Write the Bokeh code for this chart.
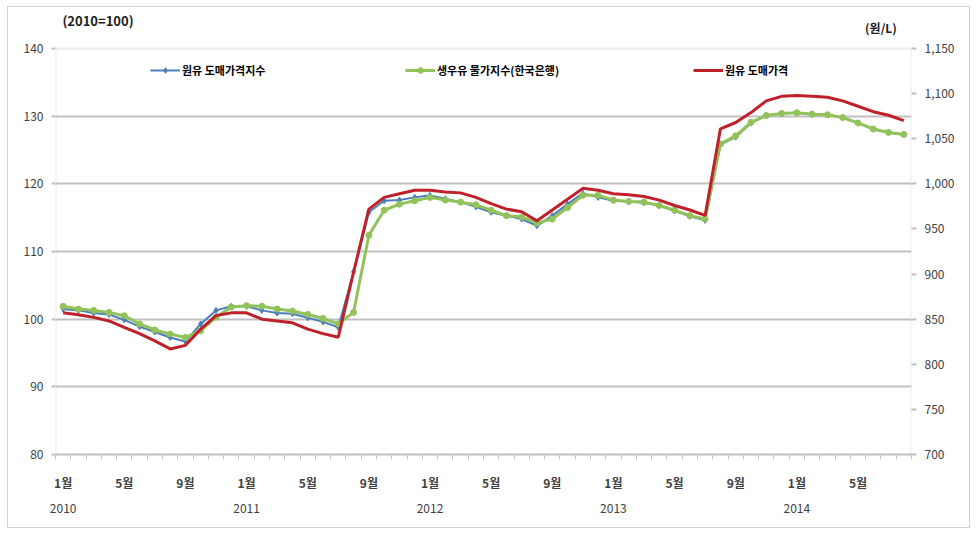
from bokeh.plotting import figure
from bokeh.models import (Range1d, LinearAxis, FixedTicker, NumeralTickFormatter,
                          Legend, LegendItem, Label, ColumnDataSource, BoxAnnotation)
from bokeh.embed import file_html
from bokeh.resources import INLINE

# ---- data ----
months = list(range(56))  # Jan 2010 .. Aug 2014
month_tick_pos = [0, 4, 8, 12, 16, 20, 24, 28, 32, 36, 40, 44, 48, 52]
month_tick_labels = ["1월", "5월", "9월"] * 4 + ["1월", "5월"]
year_tick_pos = [0, 12, 24, 36, 48]
year_tick_labels = ["2010", "2011", "2012", "2013", "2014"]

idx_wholesale = [101.5, 101.3, 100.9, 100.7, 99.9, 98.9, 98.1, 97.3, 96.7, 99.3,
                 101.3, 101.9, 101.9, 101.3, 100.9, 100.8, 100.2, 99.6, 98.8, 107.0,
                 115.8, 117.5, 117.6, 118.0, 118.3, 117.8, 117.3, 116.6, 115.8, 115.3,
                 114.8, 113.8, 115.3, 117.0, 118.6, 118.0, 117.5, 117.4, 117.2, 116.8,
                 116.0, 115.2, 114.6, 125.8, 126.9, 129.0, 130.1, 130.4, 130.5, 130.3,
                 130.2, 129.8, 129.0, 128.1, 127.6, 127.3]
idx_milk_cpi = [101.9, 101.5, 101.3, 101.0, 100.5, 99.3, 98.4, 97.8, 97.3, 98.3,
                100.3, 101.8, 102.0, 101.9, 101.5, 101.2, 100.7, 100.1, 99.3, 101.0,
                112.4, 116.1, 117.0, 117.5, 118.0, 117.6, 117.3, 116.9, 116.1, 115.3,
                115.1, 114.2, 114.8, 116.5, 118.3, 118.3, 117.6, 117.4, 117.3, 116.8,
                116.1, 115.3, 114.8, 125.9, 127.1, 129.1, 130.1, 130.4, 130.5, 130.3,
                130.2, 129.8, 129.0, 128.1, 127.6, 127.3]
price_wholesale = [857, 855, 852, 848, 841, 834, 826, 817, 821, 839,
                   854, 857, 857, 850, 848, 846, 839, 834, 830, 902,
                   972, 985, 989, 993, 993, 991, 990, 985, 978, 972,
                   969, 959, 971, 983, 995, 993, 989, 988, 986, 982,
                   976, 971, 965, 1061, 1068, 1079, 1092, 1097, 1098, 1097,
                   1096, 1092, 1086, 1080, 1076, 1070]

names = ["원유 도매가격지수", "생우유 물가지수(한국은행)", "원유 도매가격"]
left_ticks = [80, 90, 100, 110, 120, 130, 140]
right_ticks = [700, 750, 800, 850, 900, 950, 1000, 1050, 1100, 1150]

KFONT = "Noto Sans CJK KR"
TXT = "#404040"
GRID = "#c0c0c0"

Y_LO, Y_HI, Y_TOP = 80, 140, 145.62
P_LO, P_HI = 700, 1150
P_TOP = P_LO + (Y_TOP - Y_LO) * (P_HI - P_LO) / (Y_HI - Y_LO)

p = figure(width=963, height=522, output_backend="svg", toolbar_location=None,
           x_range=Range1d(-0.5, 55.5), y_range=Range1d(Y_LO, Y_TOP),
           min_border_left=47, min_border_right=60, min_border_top=3, min_border_bottom=75)
p.styles = {"border": "1px solid #d0d0d0", "margin-left": "7px", "margin-top": "6px"}
p.background_fill_color = "white"
p.border_fill_color = "white"
p.outline_line_color = None
p.extra_y_ranges = {"price": Range1d(P_LO, P_TOP)}

# left axis
p.yaxis.ticker = FixedTicker(ticks=left_ticks)
p.yaxis.axis_line_color = None
p.yaxis.major_tick_line_color = GRID
p.yaxis.major_tick_line_width = 2
p.yaxis.major_tick_out = 4
p.yaxis.major_tick_in = 0
p.yaxis.minor_tick_line_color = None
p.yaxis.major_label_text_font = KFONT
p.yaxis.major_label_text_font_size = "12px"
p.yaxis.major_label_text_color = TXT
p.yaxis.major_label_standoff = 8

# right axis
ra = LinearAxis(y_range_name="price", ticker=FixedTicker(ticks=right_ticks),
                formatter=NumeralTickFormatter(format="0,0"))
ra.axis_line_color = None
ra.major_tick_line_color = GRID
ra.major_tick_line_width = 2
ra.major_tick_out = 5
ra.major_tick_in = 0
ra.minor_tick_line_color = None
ra.major_label_text_font = KFONT
ra.major_label_text_font_size = "12px"
ra.major_label_text_color = TXT
ra.major_label_standoff = 8
p.add_layout(ra, "right")

# x axis (months)
xa = p.xaxis[0]
xa.ticker = FixedTicker(ticks=month_tick_pos, minor_ticks=[m - 0.5 for m in range(57)])
xa.major_label_overrides = {t: l for t, l in zip(month_tick_pos, month_tick_labels)}
xa.axis_line_color = GRID
xa.axis_line_width = 2
xa.major_tick_line_color = None
xa.major_tick_out = 0
xa.major_tick_in = 0
xa.minor_tick_line_color = GRID
xa.minor_tick_out = 5
xa.minor_tick_in = 0
xa.major_label_text_font = KFONT
xa.major_label_text_font_size = "12px"
xa.major_label_text_font_style = "bold"
xa.major_label_text_color = TXT
xa.major_label_standoff = 14

# year axis
ya = LinearAxis(ticker=FixedTicker(ticks=year_tick_pos))
ya.major_label_overrides = {t: l for t, l in zip(year_tick_pos, year_tick_labels)}
ya.axis_line_color = None
ya.major_tick_line_color = None
ya.minor_tick_line_color = None
ya.major_label_text_font = KFONT
ya.major_label_text_font_size = "12px"
ya.major_label_text_color = TXT
ya.major_label_standoff = 4
p.add_layout(ya, "below")

p.xgrid.grid_line_color = None
p.ygrid.ticker = FixedTicker(ticks=left_ticks[1:-1])
p.ygrid.grid_line_color = GRID
p.ygrid.grid_line_width = 2

# plot-area frame (left/right axis lines and top line at 140)
p.add_layout(BoxAnnotation(left=-0.5, right=55.5, bottom=Y_LO, top=Y_HI,
                           fill_alpha=0, line_color=GRID, line_width=2, level="underlay"))

src = ColumnDataSource(dict(x=months, a=idx_wholesale, b=idx_milk_cpi, c=price_wholesale))

BLUE = "#4A7EBB"
GREEN = "#92C25A"
RED = "#C0202A"

bl = p.line("x", "a", source=src, line_color=BLUE, line_width=2)
bm = p.scatter("x", "a", source=src, marker="diamond", size=6, fill_color=BLUE, line_color=BLUE)
gl = p.line("x", "b", source=src, line_color=GREEN, line_width=3)
gm = p.scatter("x", "b", source=src, marker="circle", size=6, fill_color=GREEN, line_color=GREEN)
rl = p.line("x", "c", source=src, line_color=RED, line_width=3, y_range_name="price")

def add_legend(item_renderers, label, xpos):
    lg = Legend(items=[LegendItem(label=label, renderers=item_renderers)],
                location=(xpos, 376), orientation="horizontal",
                border_line_color=None, background_fill_alpha=0,
                padding=0, margin=0, spacing=0, glyph_width=30, glyph_height=14,
                label_height=14, label_standoff=2,
                label_text_font=KFONT, label_text_font_size="11px",
                label_text_font_style="bold", label_text_color="#000000")
    p.add_layout(lg, "center")

add_legend([bl, bm], names[0], 95)
add_legend([gl, gm], names[1], 350)
add_legend([rl], names[2], 638)

p.add_layout(Label(x=-0.05, y=144.1, text="(2010=100)", text_font=KFONT,
                   text_font_size="13px", text_font_style="bold", text_color="#202020",
                   text_baseline="middle", text_align="left"))
p.add_layout(Label(x=53.5, y=143.1, text="(원/L)", text_font=KFONT,
                   text_font_size="12px", text_font_style="bold", text_color="#202020",
                   text_baseline="middle", text_align="center"))

open("out.html", "w").write(file_html(p, INLINE))
